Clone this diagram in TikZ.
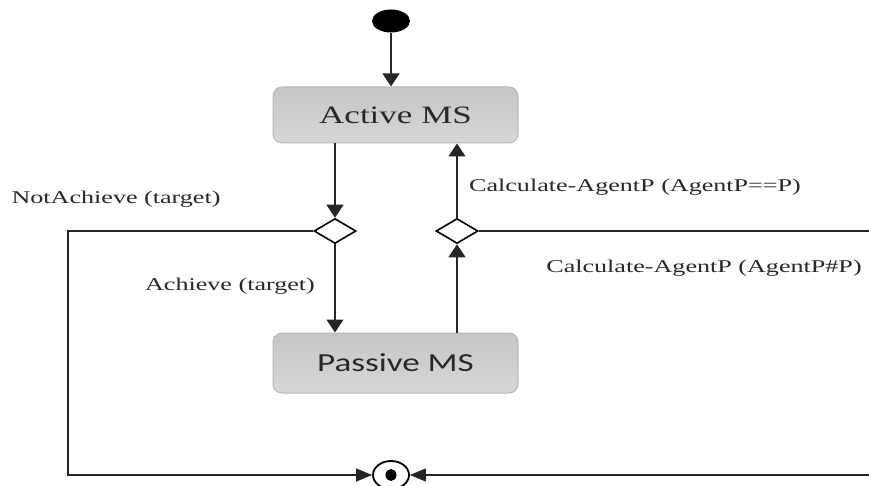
\documentclass[tikz,border=0pt]{standalone}
\usepackage{fontspec}
\usetikzlibrary{arrows.meta,shapes.geometric,calc}
\newfontfamily\lblfont[FakeStretch=1.45]{Liberation Serif}
\newfontfamily\boxserif[FakeStretch=1.4]{Liberation Serif}
\newfontfamily\boxsans[FakeStretch=1.35]{Carlito}
\definecolor{boxfill}{RGB}{208,208,208}
\definecolor{boxline}{RGB}{185,185,185}
\definecolor{txt}{RGB}{40,40,40}
\tikzset{
  flow/.style={line width=1.2pt, draw=black!85},
  vtip/.style={-{Triangle[length=13pt,width=17pt]}},
  htip/.style={-{Triangle[length=16pt,width=13pt]}},
  statebox/.style={draw=boxline, line width=1pt, rounded corners=9pt,
    top color=boxfill!95!black, bottom color=boxfill!85!white,
    minimum width=245pt, inner sep=0pt, text=txt},
  choice/.style={diamond, draw=black, fill=white, line width=1.6pt,
    inner sep=0pt, minimum width=42pt, minimum height=25pt},
  guard/.style={font=\lblfont\fontsize{18}{20}\selectfont, text=txt, inner sep=0pt}
}
\begin{document}
\begin{tikzpicture}[x=1pt,y=-1pt]
\useasboundingbox (0,0) rectangle (869,486);
\clip (0,0) rectangle (869,486);
\fill[white] (0,0) rectangle (869,486);

% states
\node[ellipse, fill=black, minimum width=38pt, minimum height=23pt, inner sep=0pt] (init) at (391,21) {};
\node[statebox, minimum height=56pt, font=\boxserif\fontsize{25}{28}\selectfont] (active) at (395.5,115) {Active MS};
\node[statebox, minimum height=60pt, font=\boxsans\fontsize{26}{28}\selectfont] (passive) at (395.5,363) {Passive MS};

% decision points
\node[choice] (d1) at (335,231) {};
\node[choice] (d2) at (457,231) {};

% final state
\node[ellipse, draw=black, fill=white, line width=1.8pt, minimum width=36pt, minimum height=28pt, inner sep=0pt] (final) at (391,475) {};
\node[ellipse, fill=black, minimum width=11pt, minimum height=12pt, inner sep=0pt] (finaldot) at (final.center) {};

% corner points of the return paths
\coordinate (lt) at (68,231);
\coordinate (lb) at (68,475);
\coordinate (rt) at (880,231);
\coordinate (rb) at (880,475);

% transitions
\draw[flow, vtip] (init.south) -- (init.south |- active.north);
\draw[flow, vtip] (d1.north |- active.south) -- (d1.north);
\draw[flow, vtip] (d1.south) -- (d1.south |- passive.north);
\draw[flow, vtip] (d2.south |- passive.north) -- (d2.south);
\draw[flow, vtip] (d2.north) -- (d2.north |- active.south);
\draw[flow, htip] (d1.west) -- (lt) -- (lb) -- (final.west);
\draw[flow, htip] (d2.east) -- (rt) -- (rb) -- (final.east);

% guards
\node[guard] (gna) at (116,199) {NotAchieve (target)};
\node[guard] (ga) at (230,286) {Achieve (target)};
\node[guard] (geq) at (635,187) {Calculate-AgentP (AgentP==P)};
\node[guard] (gne) at (704,268) {Calculate-AgentP (AgentP\#P)};
\end{tikzpicture}
\end{document}
